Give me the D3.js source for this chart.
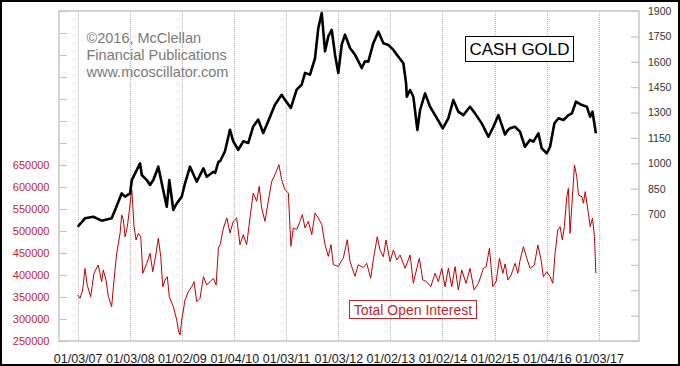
<!DOCTYPE html>
<html><head><meta charset="utf-8">
<script src="https://cdn.jsdelivr.net/npm/d3@7"></script>
<style>body{margin:0;background:#fff}svg{display:block}</style>
</head><body>
<script>
// ---- DATA ----
const tickDates = ["2007-01-03","2008-01-03","2009-01-02","2010-01-04","2011-01-03","2012-01-03","2013-01-02","2014-01-02","2015-01-02","2016-01-04","2017-01-03"];
const leftTicks = [250000,300000,350000,400000,450000,500000,550000,600000,650000,700000,750000,800000,850000,900000,950000,1000000];
const leftLabelMax = 650000;
const rightTicks = [-50,100,250,400,550,700,850,1000,1150,1300,1450,1600,1750,1900];
const rightLabelMin = 700;

const goldSeries = [
["2007-01-03",625],["2007-02-23",675],["2007-04-22",684],["2007-06-20",661],["2007-08-29",675],["2007-09-22",724],
["2007-11-07",822],["2007-12-01",803],["2008-01-05",822],["2008-01-17",901],["2008-03-15",1000],["2008-03-27",931],
["2008-05-01",901],["2008-05-24",872],["2008-06-16",901],["2008-07-21",980],["2008-08-14",882],["2008-09-18",743],
["2008-10-06",901],["2008-11-03",724],["2008-11-27",763],["2009-01-01",803],["2009-01-24",882],["2009-02-28",980],
["2009-04-16",891],["2009-06-02",970],["2009-06-25",921],["2009-08-11",950],["2009-08-23",943],["2009-09-15",1009],
["2009-09-27",1012],["2009-10-31",1071],["2009-12-05",1198],["2009-12-28",1130],["2010-02-01",1080],["2010-03-08",1130],
["2010-04-12",1120],["2010-05-17",1218],["2010-06-21",1258],["2010-07-26",1179],["2010-08-30",1248],["2010-10-16",1346],
["2010-12-02",1405],["2010-12-25",1376],["2011-02-05",1327],["2011-03-17",1435],["2011-04-21",1464],["2011-05-15",1534],
["2011-06-19",1524],["2011-07-24",1622],["2011-08-16",1800],["2011-09-09",1888],["2011-10-02",1662],["2011-10-25",1750],
["2011-11-18",1789],["2011-12-11",1642],["2012-01-03",1534],["2012-01-27",1701],["2012-02-19",1760],["2012-03-25",1681],
["2012-04-29",1642],["2012-06-15",1563],["2012-07-08",1603],["2012-07-31",1600],["2012-09-04",1709],["2012-10-10",1778],
["2012-11-14",1709],["2012-12-19",1699],["2013-01-23",1670],["2013-02-27",1630],["2013-04-03",1591],["2013-04-22",1473],
["2013-04-27",1393],["2013-05-20",1433],["2013-06-12",1393],["2013-07-10",1197],["2013-07-29",1315],["2013-09-02",1413],
["2013-10-07",1334],["2013-11-11",1285],["2014-01-04",1207],["2014-02-12",1266],["2014-03-19",1374],["2014-04-23",1305],
["2014-05-28",1285],["2014-07-14",1334],["2014-08-18",1295],["2014-10-04",1236],["2014-11-20",1157],["2014-12-25",1216],
["2015-01-29",1285],["2015-02-22",1226],["2015-03-16",1170],["2015-04-05",1197],["2015-04-21",1207],["2015-05-25",1216],
["2015-06-29",1187],["2015-08-03",1098],["2015-09-07",1138],["2015-10-01",1128],["2015-11-05",1177],["2015-11-28",1089],
["2016-01-03",1059],["2016-01-26",1098],["2016-02-25",1236],["2016-03-25",1266],["2016-04-29",1256],["2016-06-03",1285],
["2016-06-27",1295],["2016-07-25",1364],["2016-09-05",1344],["2016-10-10",1334],["2016-11-02",1275],["2016-11-18",1305],
["2016-12-12",1177]
];

const oiSeries = [
["2007-01-03",354500],["2007-01-19",347000],["2007-02-07",366000],["2007-02-23",415000],["2007-03-11",377000],["2007-04-04",350700],
["2007-04-27",403900],["2007-05-27",422700],["2007-06-20",384800],["2007-07-01",411400],["2007-07-20",388600],["2007-08-06",350700],
["2007-08-29",327900],["2007-09-10",373400],["2007-10-03",449300],["2007-10-27",494800],["2007-11-07",536400],["2007-11-19",525000],
["2007-12-01",487000],["2007-12-17",509800],["2007-12-31",547700],["2008-01-17",593200],["2008-02-02",509800],["2008-02-16",479500],
["2008-03-03",494800],["2008-03-20",487000],["2008-04-03",403900],["2008-05-01",426600],["2008-05-24",449300],["2008-06-12",407500],
["2008-07-05",449300],["2008-07-21",483400],["2008-08-07",441600],["2008-08-21",373400],["2008-09-06",388600],["2008-09-22",396200],
["2008-10-06",350700],["2008-11-03",327900],["2008-11-27",297700],["2008-12-08",275000],["2008-12-20",263600],["2009-01-01",297700],
["2009-01-24",343200],["2009-02-16",362000],["2009-03-12",373400],["2009-03-28",384800],["2009-04-16",339400],["2009-05-09",347000],
["2009-06-02",396200],["2009-06-25",377300],["2009-07-19",384800],["2009-08-11",392500],["2009-08-30",377300],["2009-09-15",461400],
["2009-09-27",468900],["2009-10-20",506800],["2009-11-13",529600],["2009-12-05",495500],["2009-12-28",522000],["2010-01-21",529600],
["2010-02-13",468900],["2010-03-08",491700],["2010-04-01",468900],["2010-04-24",529600],["2010-05-17",586400],["2010-06-10",567500],
["2010-06-28",601600],["2010-07-15",552300],["2010-08-07",522000],["2010-08-30",567500],["2010-09-23",612100],["2010-10-16",627900],
["2010-11-13",650700],["2010-12-02",616600],["2010-12-25",593800],["2011-01-18",586400],["2011-02-05",465300],["2011-02-22",506800],
["2011-03-17",503000],["2011-04-10",522000],["2011-04-26",537100],["2011-05-15",506800],["2011-06-07",522000],["2011-07-01",491700],
["2011-07-24",541000],["2011-08-16",529600],["2011-09-09",514400],["2011-10-02",468900],["2011-10-25",442500],["2011-11-13",468900],
["2011-11-29",423400],["2012-01-03",419800],["2012-02-07",438700],["2012-03-06",480200],["2012-03-25",431000],["2012-04-29",397000],
["2012-05-22",423400],["2012-06-26",417000],["2012-07-20",426600],["2012-08-17",392500],["2012-09-04",434100],["2012-10-02",487000],
["2012-10-21",456800],["2012-11-14",441600],["2012-12-02",479500],["2012-12-31",430300],["2013-01-23",456800],["2013-02-16",434100],
["2013-03-11",445500],["2013-04-15",415200],["2013-05-20",445500],["2013-06-12",381100],["2013-07-06",415200],["2013-07-24",437800],
["2013-08-17",388600],["2013-09-14",384800],["2013-10-12",373400],["2013-11-11",403900],["2013-12-04",384800],["2013-12-28",415200],
["2014-01-20",373400],["2014-02-12",415200],["2014-03-08",373400],["2014-03-31",418900],["2014-04-23",366000],["2014-05-17",411400],
["2014-06-16",381100],["2014-07-14",415200],["2014-08-11",366000],["2014-09-11",381100],["2014-10-16",415200],["2014-11-04",418900],
["2014-11-27",460700],["2014-12-21",373400],["2015-01-13",384800],["2015-02-05",437800],["2015-03-01",403900],["2015-03-17",425000],
["2015-04-05",388600],["2015-04-28",400000],["2015-05-26",426600],["2015-06-14",403900],["2015-06-30",434100],["2015-07-23",464400],
["2015-08-16",437800],["2015-09-08",415200],["2015-10-08",422700],["2015-11-01",468200],["2015-11-24",434100],["2015-12-10",396200],
["2016-01-03",407500],["2016-01-26",396200],["2016-02-14",381100],["2016-03-01",449300],["2016-03-20",502300],["2016-04-05",509800],
["2016-04-21",479500],["2016-05-05",509800],["2016-05-22",577900],["2016-06-02",596900],["2016-06-14",494800],["2016-06-26",555300],
["2016-07-15",650000],["2016-07-31",623400],["2016-08-12",581800],["2016-09-05",577900],["2016-09-16",562900],["2016-09-28",589500],
["2016-10-17",547700],["2016-11-02",509800],["2016-11-18",528900],["2016-12-02",487000],["2016-12-12",403900]
];

const creditLines = ["©2016, McClellan","Financial Publications","www.mcoscillator.com"];
const goldTitle = "CASH GOLD";
const oiTitle = "Total Open Interest";

// ---- CHART ----
const W = 680, H = 366;
const M = {left:59, right:639, top:11, bottom:341};
const parse = d3.utcParse("%Y-%m-%d");
const RED = "#c0272d";
const LINE_RED = "#c00000";
const FRAME = "#c6c6c6";

const svg = d3.select("body").append("svg").attr("width", W).attr("height", H)
  .style("font-family", "Arial, 'Liberation Sans', sans-serif");

const x = d3.scaleUtc().domain([parse("2006-08-25"), parse("2017-10-10")]).range([M.left, M.right]);
const yL = d3.scaleLinear().domain([250000, 1000000]).range([M.bottom, M.top]);
const yR = d3.scaleLinear().domain([-50, 1900]).range([M.bottom, M.top]);

svg.append("rect").attr("width", W).attr("height", H).attr("fill", "#fff");

// vertical dotted gridlines
svg.append("g").selectAll("line").data(tickDates).join("line")
  .attr("x1", d => Math.round(x(parse(d))) + 0.5).attr("x2", d => Math.round(x(parse(d))) + 0.5)
  .attr("y1", M.top).attr("y2", M.bottom)
  .attr("stroke", "#b8b8b8").attr("stroke-width", 1).attr("stroke-dasharray", "1,1");

// frame
svg.append("rect").attr("x", M.left).attr("y", M.top)
  .attr("width", M.right - M.left).attr("height", M.bottom - M.top)
  .attr("fill", "none").attr("stroke", FRAME).attr("stroke-width", 1.5);

// left axis
const gL = svg.append("g").attr("transform", `translate(${M.left},0)`)
  .call(d3.axisLeft(yL).tickValues(leftTicks).tickSize(-8).tickPadding(9.5)
    .tickFormat(d => d <= leftLabelMax ? d3.format("d")(d) : ""));
gL.select(".domain").remove();
gL.selectAll(".tick line").attr("stroke", FRAME).attr("stroke-width", 1.2);
gL.selectAll(".tick text").attr("fill", RED).style("font-size", "11px");

// right axis
const gR = svg.append("g").attr("transform", `translate(${M.right},0)`)
  .call(d3.axisRight(yR).tickValues(rightTicks).tickSize(-8).tickPadding(9)
    .tickFormat(d => d >= rightLabelMin ? d3.format("d")(d) : ""));
gR.select(".domain").remove();
gR.selectAll(".tick line").attr("stroke", FRAME).attr("stroke-width", 1.2);
gR.selectAll(".tick text").attr("fill", "#333").style("font-size", "10.5px");

// bottom axis
const gB = svg.append("g").attr("transform", `translate(0,${M.bottom})`)
  .call(d3.axisBottom(x).tickValues(tickDates.map(parse)).tickSize(0).tickPadding(13)
    .tickFormat(d3.utcFormat("%m/%d/%y")));
gB.select(".domain").remove();
gB.selectAll(".tick text").attr("fill", "#1a1a1a").style("font-size", "12.5px");

// credit text
svg.append("g").selectAll("text").data(creditLines).join("text")
  .attr("x", 86.5).attr("y", (d, i) => 43.3 + i * 17)
  .attr("fill", "#7a7a7a").style("font-size", "14.5px").text(d => d);

// lines
const oiLine = d3.line().x(d => x(parse(d[0]))).y(d => yL(d[1]));
svg.append("path").datum(oiSeries).attr("d", oiLine)
  .attr("fill", "none").attr("stroke", LINE_RED).attr("stroke-width", 1).attr("stroke-linejoin", "round");

const goldLine = d3.line().x(d => x(parse(d[0]))).y(d => yR(d[1]));
svg.append("path").datum(goldSeries).attr("d", goldLine)
  .attr("fill", "none").attr("stroke", "#000").attr("stroke-width", 2.6).attr("stroke-linejoin", "round");

// CASH GOLD box
svg.append("rect").attr("x", 465.5).attr("y", 36.5).attr("width", 108).attr("height", 25)
  .attr("fill", "#fff").attr("stroke", "#000").attr("stroke-width", 1);
svg.append("text").attr("x", 519.5).attr("y", 55).attr("text-anchor", "middle")
  .attr("fill", "#000").style("font-size", "17px").text(goldTitle);

// Total Open Interest box
svg.append("rect").attr("x", 349.5).attr("y", 300.5).attr("width", 127).attr("height", 18)
  .attr("fill", "#fff").attr("stroke", RED).attr("stroke-width", 1);
svg.append("text").attr("x", 413).attr("y", 315).attr("text-anchor", "middle")
  .attr("fill", RED).style("font-size", "14px").text(oiTitle);

// outer border
svg.append("rect").attr("x", 1).attr("y", 1).attr("width", W - 2).attr("height", H - 2)
  .attr("fill", "none").attr("stroke", "#000").attr("stroke-width", 2);
</script>
</body></html>
